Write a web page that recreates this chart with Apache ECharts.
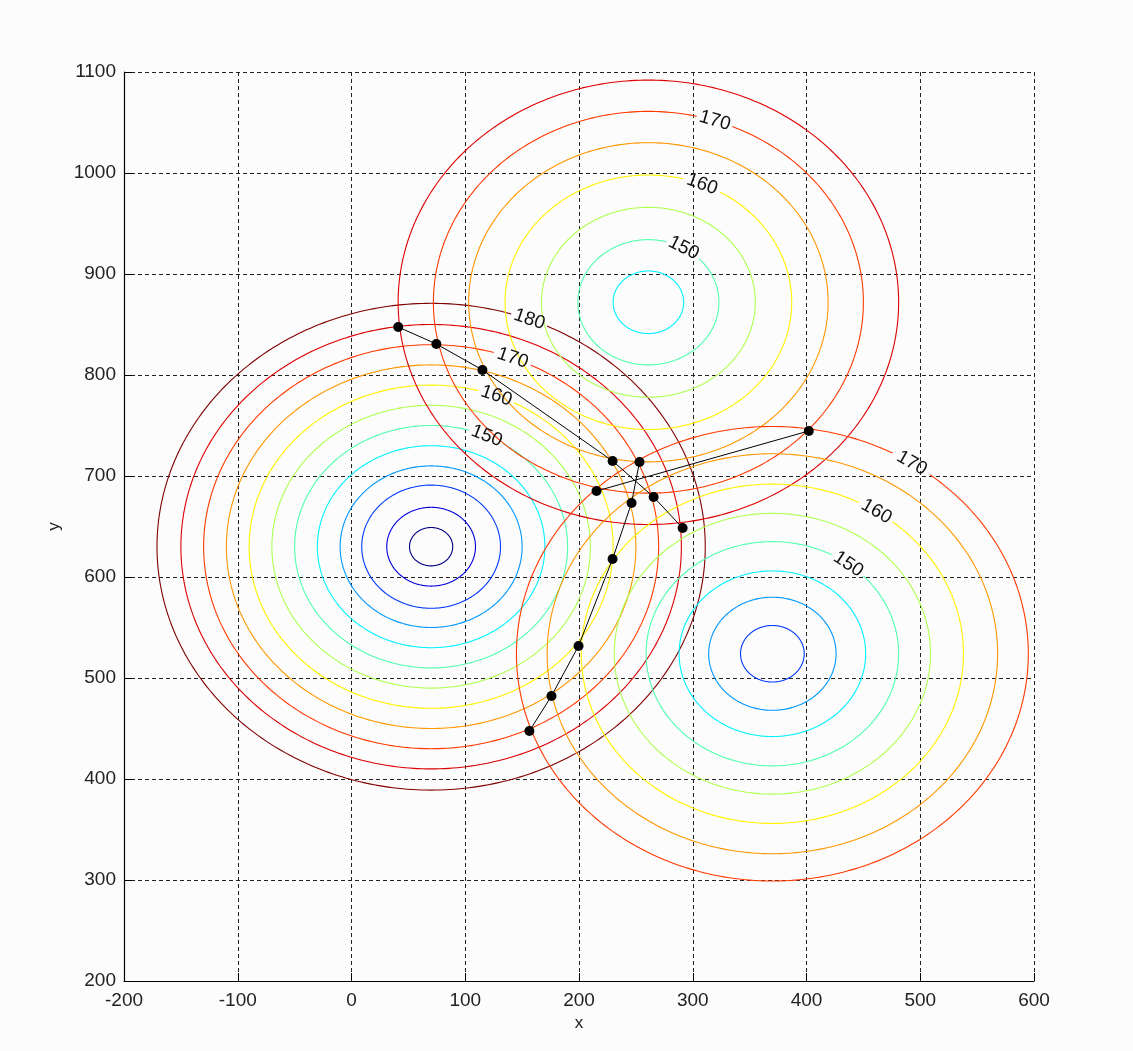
<!DOCTYPE html>
<html><head><meta charset="utf-8">
<script src="https://cdn.jsdelivr.net/npm/echarts@6/dist/echarts.min.js"></script>
<style>html,body{margin:0;padding:0;background:#fcfcfc;} #c{width:1133px;height:1051px;}</style>
</head><body><div id="c"></div>
<script>
// ---- contour sets: centre, ring radii, ring levels ----
const leftCenter = [70, 630];
const leftRadii  = [19, 39, 61, 80, 100, 120, 140, 160, 180, 200, 220, 241];
const leftLevels = [125, 130, 135, 140, 145, 150, 155, 160, 165, 170, 175, 180];

const topCenter = [261, 872];
const topRadii  = [31, 62, 94, 126, 158, 189, 220];
const topLevels = [145, 150, 155, 160, 165, 170, 175];

const rightCenter = [370, 524];
const rightRadii  = [28, 56, 82, 111, 139, 168, 198, 225];
const rightLevels = [135, 140, 145, 150, 155, 160, 165, 170];

// ---- contour labels: set index (0 left, 1 top, 2 right), level, angle on ring (deg) ----
const labelSet   = [0, 0, 0, 0, 1, 1, 1, 2, 2, 2];
const labelLevel = [180, 170, 160, 150, 170, 160, 150, 170, 160, 150];
const labelAngle = [69, 69, 69, 66, 72, 68, 60, 57, 57, 53];

// ---- iteration paths ----
const pathA = [[41.1, 847.5], [74.6, 830.7], [115.1, 805.0], [229.5, 714.9], [265.6, 679.2], [291.1, 648.5]];
const pathB = [[402.0, 744.6], [215.4, 685.1]];
const pathC = [[156.4, 447.5], [175.8, 482.2], [199.6, 531.7], [229.5, 617.8], [246.2, 673.3], [253.2, 713.9]];

const levelMin = 125, levelMax = 180;

function jet(v) {
  const t = (v - levelMin) / (levelMax - levelMin);
  const c = x => Math.max(0, Math.min(1, x));
  const r = c(1.5 - Math.abs(4 * t - 3));
  const g = c(1.5 - Math.abs(4 * t - 2));
  const b = c(1.5 - Math.abs(4 * t - 1));
  return 'rgb(' + Math.round(r * 255) + ',' + Math.round(g * 255) + ',' + Math.round(b * 255) + ')';
}

const ringData = [];
[[leftCenter, leftRadii, leftLevels], [topCenter, topRadii, topLevels], [rightCenter, rightRadii, rightLevels]]
  .forEach((s, si) => s[1].forEach((r, i) => ringData.push([s[0][0], s[0][1], r, s[2][i], si])));

const GAP = 18;
function renderRing(params, api) {
  const cx = api.value(0), cy = api.value(1), r = api.value(2), lvl = api.value(3), set = api.value(4);
  const N = 360;
  const pts = [];
  for (let i = 0; i <= N; i++) {
    const a = i / N * 2 * Math.PI;
    pts.push(api.coord([cx + r * Math.cos(a), cy + r * Math.sin(a)]));
  }
  const children = [];
  const gaps = [];
  for (let k = 0; k < labelSet.length; k++) {
    if (labelSet[k] === set && labelLevel[k] === lvl) {
      const a = labelAngle[k] * Math.PI / 180;
      const p = api.coord([cx + r * Math.cos(a), cy + r * Math.sin(a)]);
      const p1 = api.coord([cx + r * Math.cos(a + 0.02), cy + r * Math.sin(a + 0.02)]);
      const p2 = api.coord([cx + r * Math.cos(a - 0.02), cy + r * Math.sin(a - 0.02)]);
      let dx = p2[0] - p1[0], dy = p2[1] - p1[1];
      if (dx < 0) { dx = -dx; dy = -dy; }
      gaps.push(p);
      children.push({
        type: 'text', x: p[0], y: p[1], rotation: Math.atan2(-dy, dx), z2: 10,
        style: { text: String(labelLevel[k]), fill: '#111', fontSize: 19, fontFamily: 'Liberation Sans, Arial, sans-serif',
                 align: 'center', verticalAlign: 'middle' }
      });
    }
  }
  let seg = [];
  const segs = [];
  pts.forEach(p => {
    const inGap = gaps.some(g => Math.hypot(p[0] - g[0], p[1] - g[1]) < GAP);
    if (inGap) { if (seg.length > 1) segs.push(seg); seg = []; }
    else seg.push(p);
  });
  if (seg.length > 1) segs.push(seg);
  segs.forEach(s => children.push({
    type: 'polyline', shape: { points: s },
    style: { stroke: jet(lvl), lineWidth: 1.1, fill: null }
  }));
  return { type: 'group', children: children };
}

const chart = echarts.init(document.getElementById('c'), null, { renderer: 'canvas' });
const axisFont = { color: '#222', fontSize: 19, fontFamily: 'Liberation Sans, Arial, sans-serif', formatter: v => String(v) };
const gridLine = { show: true, lineStyle: { color: '#222', type: [4, 3], width: 1 } };
const pathStyle = {
  type: 'line', symbol: 'circle', symbolSize: 10, z: 5,
  lineStyle: { color: '#000', width: 1 }, itemStyle: { color: '#000' }
};
chart.setOption({
  animation: false,
  backgroundColor: '#fcfcfc',
  grid: { left: 124, right: 99, top: 72, bottom: 70, containLabel: false },
  xAxis: {
    type: 'value', min: -200, max: 600, interval: 100,
    name: 'x', nameLocation: 'middle', nameGap: 32,
    nameTextStyle: { color: '#222', fontSize: 17, fontFamily: 'Liberation Sans, Arial, sans-serif' },
    axisLine: { show: true, onZero: false, lineStyle: { color: '#000', width: 1.2 } },
    axisTick: { show: true, inside: true, length: 8, lineStyle: { color: '#000' } },
    axisLabel: Object.assign({ margin: 10 }, axisFont),
    splitLine: gridLine
  },
  yAxis: {
    type: 'value', min: 200, max: 1100, interval: 100,
    name: 'y', nameLocation: 'middle', nameGap: 57, nameRotate: 90,
    nameTextStyle: { color: '#222', fontSize: 17, fontFamily: 'Liberation Sans, Arial, sans-serif' },
    axisLine: { show: true, onZero: false, lineStyle: { color: '#000', width: 1.2 } },
    axisTick: { show: true, inside: true, length: 8, lineStyle: { color: '#000' } },
    axisLabel: Object.assign({ margin: 8 }, axisFont),
    splitLine: gridLine
  },
  series: [
    { type: 'custom', renderItem: renderRing, data: ringData, z: 3, silent: true },
    Object.assign({ data: pathA }, pathStyle),
    Object.assign({ data: pathB }, pathStyle),
    Object.assign({ data: pathC }, pathStyle)
  ]
});
</script></body></html>
